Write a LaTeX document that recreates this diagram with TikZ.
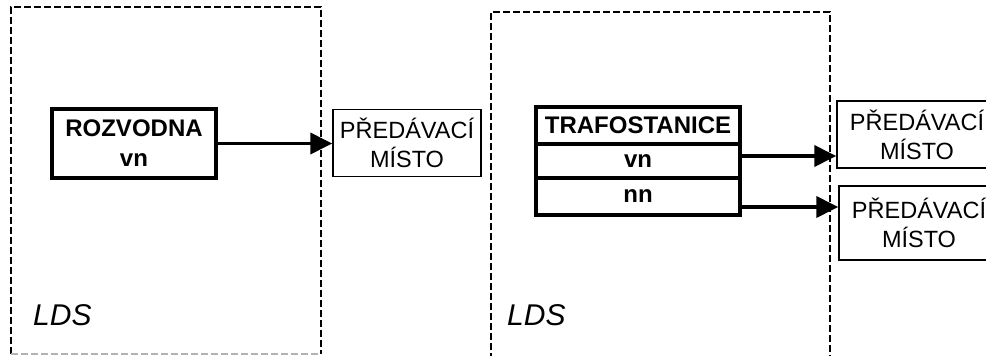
\documentclass[tikz,border=0pt]{standalone}
\usepackage{fontspec}
\setmainfont{Liberation Sans}
\usetikzlibrary{arrows.meta}
\begin{document}
\begin{tikzpicture}[x=1pt,y=-1pt,
  region/.style={line width=1.4pt, dash pattern=on 7pt off 3pt},
  thickbox/.style={draw, line width=3.2pt, inner sep=0pt, align=center,
    font=\fontsize{24}{30}\selectfont\bfseries},
  pmbox/.style={draw, line width=1.4pt, inner sep=0pt, align=center,
    font=\fontsize{23.5}{29}\selectfont},
  arr/.style={line width=3.6pt, -{Triangle[length=22pt,width=21pt]}},
  lds/.style={font=\fontsize{30}{30}\selectfont\itshape, anchor=base west, inner sep=0pt}
]
\useasboundingbox (0,0) rectangle (986,356);
\clip (0,0) rectangle (986,356);
% regions
\draw[region] (11,354) -- (11,7) -- (321,7) -- (321,354);
\draw[region, gray!60] (11,354) -- (321,354);
\draw[region] (491,360) -- (491,12) -- (830,12) -- (830,360);
\node[lds] (lds1) at (33,325) {LDS};
\node[lds] (lds2) at (507,325) {LDS};
% left
\node[thickbox, minimum width=164pt, minimum height=69pt] (rozv) at (134,143.5) {ROZVODNA\\vn};
\node[pmbox, minimum width=148pt, minimum height=67pt] (pm1) at (407,143) {PŘEDÁVACÍ\\MÍSTO};
\draw[arr] (rozv.east) -- (rozv.east -| pm1.west);
% right
\node[thickbox, minimum width=204pt, minimum height=37pt] (trafo) at (638,125.5) {TRAFOSTANICE};
\node[thickbox, minimum width=204pt, minimum height=34pt] (vn) at (638,161) {vn};
\node[thickbox, minimum width=204pt, minimum height=37pt] (nn) at (638,196.5) {nn};
\node[pmbox, minimum width=160pt, minimum height=67pt] (pm2) at (917,134.5) {PŘEDÁVACÍ\\MÍSTO};
\node[pmbox, minimum width=160pt, minimum height=74pt] (pm3) at (919,223) {PŘEDÁVACÍ\\MÍSTO};
\coordinate (avn) at ([yshift=5pt]vn.east);
\coordinate (ann) at ([yshift=-10.5pt]nn.east);
\draw[arr] (avn) -- (avn -| pm2.west);
\draw[arr] (ann) -- (ann -| pm3.west);
\end{tikzpicture}
\end{document}
